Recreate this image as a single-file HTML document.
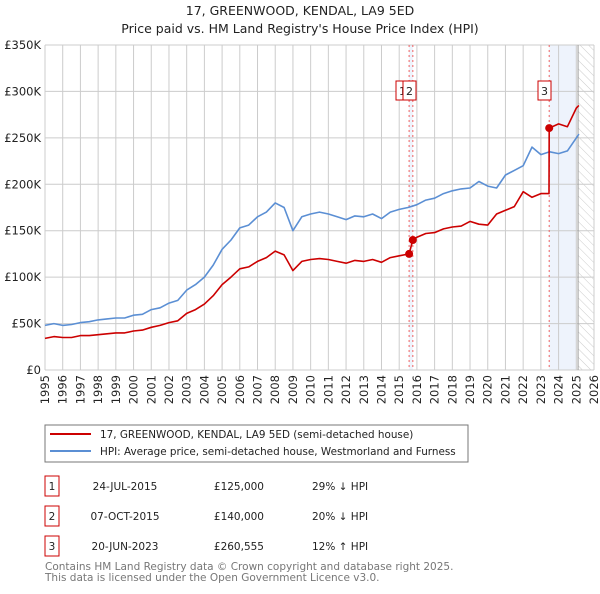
<!DOCTYPE html>
<html><head><meta charset="utf-8"><style>
body{margin:0;background:#fff;font-family:"DejaVu Sans","Liberation Sans",sans-serif;}
svg text{font-family:"DejaVu Sans","Liberation Sans",sans-serif;}
</style></head><body>
<svg id="c" width="600" height="590" xmlns="http://www.w3.org/2000/svg">
<defs><pattern id="hatch" width="6" height="6" patternUnits="userSpaceOnUse" patternTransform="rotate(-45)"><line x1="0" y1="0" x2="0" y2="6" stroke="#ccc" stroke-width="1"/></pattern></defs>
<text x="300" y="15" text-anchor="middle" font-size="12.5" fill="#222">17, GREENWOOD, KENDAL, LA9 5ED</text>
<text x="300" y="33" text-anchor="middle" font-size="12.5" fill="#222">Price paid vs. HM Land Registry's House Price Index (HPI)</text>
<g id="plot"></g>
<rect x="45" y="425" width="423" height="37" fill="#fff" stroke="#777"/>
<line x1="50" y1="434" x2="91" y2="434" stroke="#cc0000" stroke-width="2"/>
<text x="100" y="438" font-size="10.4" fill="#222">17, GREENWOOD, KENDAL, LA9 5ED (semi-detached house)</text>
<line x1="50" y1="451" x2="91" y2="451" stroke="#5b8fd4" stroke-width="2"/>
<text x="100" y="455" font-size="10.4" fill="#222">HPI: Average price, semi-detached house, Westmorland and Furness</text>
<g id="table" font-size="10.5" fill="#222"></g>
<text x="45" y="570" font-size="10.5" fill="#777">Contains HM Land Registry data © Crown copyright and database right 2025.</text>
<text x="45" y="581" font-size="10.5" fill="#777">This data is licensed under the Open Government Licence v3.0.</text>
</svg>
<script>
const hpiYears=[1995,1995.5,1996,1996.5,1997,1997.5,1998,1998.5,1999,1999.5,2000,2000.5,2001,2001.5,2002,2002.5,2003,2003.5,2004,2004.5,2005,2005.5,2006,2006.5,2007,2007.5,2008,2008.5,2009,2009.5,2010,2010.5,2011,2011.5,2012,2012.5,2013,2013.5,2014,2014.5,2015,2015.5,2016,2016.5,2017,2017.5,2018,2018.5,2019,2019.5,2020,2020.5,2021,2021.5,2022,2022.5,2023,2023.5,2024,2024.5,2025,2025.15];
const hpiValues=[48,50,48,49,51,52,54,55,56,56,59,60,65,67,72,75,86,92,100,113,130,140,153,156,165,170,180,175,150,165,168,170,168,165,162,166,165,168,163,170,173,175,178,183,185,190,193,195,196,203,198,196,210,215,220,240,232,235,233,236,250,254];
const redYears=[1995,1995.5,1996,1996.5,1997,1997.5,1998,1998.5,1999,1999.5,2000,2000.5,2001,2001.5,2002,2002.5,2003,2003.5,2004,2004.5,2005,2005.5,2006,2006.5,2007,2007.5,2008,2008.5,2009,2009.5,2010,2010.5,2011,2011.5,2012,2012.5,2013,2013.5,2014,2014.5,2015,2015.56,2015.77,2016,2016.5,2017,2017.5,2018,2018.5,2019,2019.5,2020,2020.5,2021,2021.5,2022,2022.5,2023,2023.46,2023.47,2024,2024.5,2025,2025.15];
const redValues=[34,36,35,35,37,37,38,39,40,40,42,43,46,48,51,53,61,65,71,80,92,100,109,111,117,121,128,124,107,117,119,120,119,117,115,118,117,119,116,121,123,125,140,143,147,148,152,154,155,160,157,156,168,172,176,192,186,190,190,260.5,265,262,282,285];
const sales=[{n:'1',year:2015.56,value:125},{n:'2',year:2015.77,value:140},{n:'3',year:2023.47,value:260.5}];
const yTicks=[0,50,100,150,200,250,300,350];
const yTickLabels=['£0','£50K','£100K','£150K','£200K','£250K','£300K','£350K'];
const xTicks=[1995,1996,1997,1998,1999,2000,2001,2002,2003,2004,2005,2006,2007,2008,2009,2010,2011,2012,2013,2014,2015,2016,2017,2018,2019,2020,2021,2022,2023,2024,2025,2026];
const tableDates=['24-JUL-2015','07-OCT-2015','20-JUN-2023'];
const tablePrices=['£125,000','£140,000','£260,555'];
const tableDiffs=['29% ↓ HPI','20% ↓ HPI','12% ↑ HPI'];

const NS='http://www.w3.org/2000/svg';
const L=45,R=594,T=45,B=370;
const xs=y=>L+(y-1995)/(2026-1995)*(R-L);
const ys=v=>B-v/350*(B-T);
function mk(tag,attrs,parent){const e=document.createElementNS(NS,tag);for(const k in attrs)e.setAttribute(k,attrs[k]);parent.appendChild(e);return e;}
const g=document.getElementById('plot');
let e=mk('rect',{x:xs(2015.56),y:T,width:xs(2015.77)-xs(2015.56),height:B-T,fill:'#eef3fc'},g);

e=mk('rect',{x:xs(2023.47),y:T,width:xs(2025.0)-xs(2023.47),height:B-T,fill:'#eef3fc'},g);

e=mk('rect',{x:xs(2025.1),y:T,width:R-xs(2025.1),height:B-T,fill:'url(#hatch)'},g);

yTicks.forEach((v,i)=>{
 let l=mk('line',{x1:L,x2:R,y1:ys(v),y2:ys(v),stroke:'#ccc'},g);
 
 let t=mk('text',{x:L-4,y:ys(v)+4,'text-anchor':'end','font-size':'11.5',fill:'#222'},g);t.textContent=yTickLabels[i];
 
});
xTicks.forEach(yr=>{
 let l=mk('line',{x1:xs(yr),x2:xs(yr),y1:T,y2:B,stroke:'#ccc'},g);
 
 let t=mk('text',{x:0,y:0,'text-anchor':'end','font-size':'11.5',fill:'#222',transform:`translate(${xs(yr)+4},${B+5}) rotate(-90)`},g);t.textContent=yr;
 
});
e=mk('line',{x1:xs(2025.1),x2:xs(2025.1),y1:T,y2:B,stroke:'#999'},g);

sales.forEach(s=>{
 let l=mk('line',{x1:xs(s.year),x2:xs(s.year),y1:T,y2:B,stroke:'#f06060','stroke-dasharray':'2,3'},g);
 
});
function path(xa,va,col,name){
 const d=xa.map((x,i)=>(i?'L':'M')+xs(x).toFixed(1)+','+ys(va[i]).toFixed(1)).join('');
 const p=mk('path',{d:d,fill:'none',stroke:col,'stroke-width':1.6,'stroke-linejoin':'round'},g);
 
}
path(hpiYears,hpiValues,'#5b8fd4','hpi-line');
path(redYears,redValues,'#cc0000','property-price-line');
sales.forEach(s=>{
 let c=mk('circle',{cx:xs(s.year),cy:ys(s.value),r:4,fill:'#cc0000'},g);
 
});
const boxX=[396,403,538];
sales.forEach((s,i)=>{
 let r=mk('rect',{x:boxX[i],y:81,width:13,height:19,fill:'#fff',stroke:'#cc0000'},g);
 
 let t=mk('text',{x:boxX[i]+6.5,y:95,'text-anchor':'middle','font-size':'11',fill:'#222'},g);t.textContent=s.n;
 
});
const tb=document.getElementById('table');
sales.forEach((s,i)=>{
 const y=482+i*30;
 let r=mk('rect',{x:45,y:y-6,width:14,height:20,fill:'#fff',stroke:'#cc0000'},tb);
 
 let t=mk('text',{x:52,y:y+8,'text-anchor':'middle'},tb);t.textContent=s.n;
 
 t=mk('text',{x:125,y:y+8,'text-anchor':'middle'},tb);t.textContent=tableDates[i];
 
 t=mk('text',{x:264,y:y+8,'text-anchor':'end'},tb);t.textContent=tablePrices[i];
 
 t=mk('text',{x:312,y:y+8},tb);t.textContent=tableDiffs[i];
 
});
</script>
</body></html>
